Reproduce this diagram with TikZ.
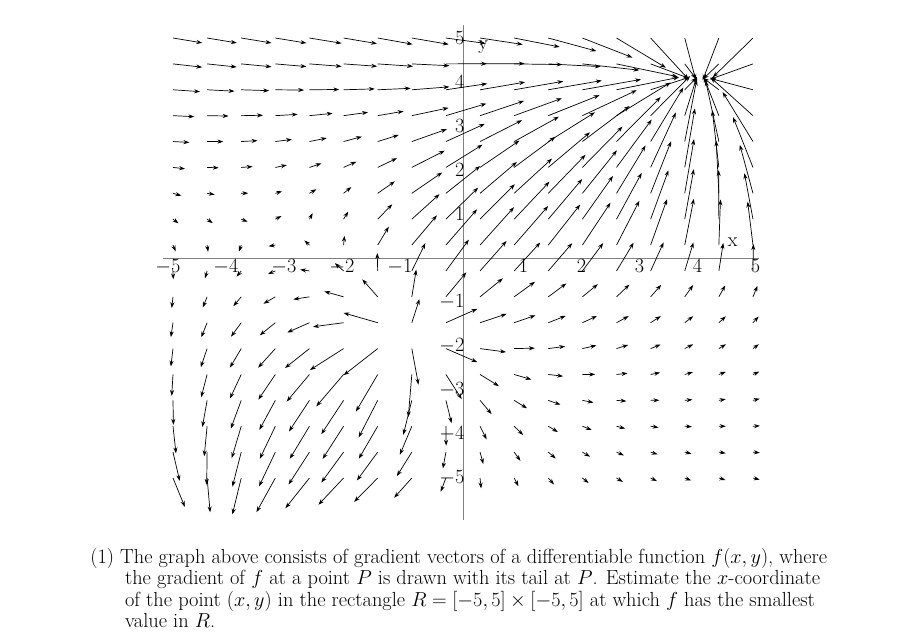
\documentclass[tikz,border=0pt]{standalone}
\usetikzlibrary{arrows.meta}
\begin{document}
\begin{tikzpicture}[x=1.74cm,y=1.32cm,
  vec/.style={-{Stealth[length=5pt,width=3.5pt]},line width=0.6pt},
  tick/.style={font=\fontsize{17}{20}\selectfont},
  captxt/.style={font=\fontsize{17.4}{18}\selectfont,anchor=base west,inner sep=0pt}]
\useasboundingbox (-7.983,5.864) rectangle (7.828,-8.682);
\draw[gray,line width=0.5pt] (-5.17,0) -- (5.1,0);
\draw[gray,line width=0.5pt] (0,5.3) -- (0,-5.95);
\foreach \i in {-5,...,5}{\ifnum\i=0\else
  \node[tick,below left,inner sep=1pt] (xt\i) at (\i+0.15,0) {$\i$};
  \node[tick,left,inner sep=1pt] (yt\i) at (0.05,\i) {$\i$};\fi}
\node[tick] (xl) at (4.65,0.35) {x};
\node[tick] (yl) at (0.35,4.8) {y};
\foreach \i in {0,...,17}{
 \foreach \j in {0,...,17}{
  \pgfmathsetmacro{\x}{-5+\i*10/17}\pgfmathsetmacro{\y}{-5+\j*10/17}
  \pgfmathsetmacro{\ax}{4-\x}\pgfmathsetmacro{\ay}{4-\y}
  \pgfmathsetmacro{\ra}{sqrt(\ax*\ax+\ay*\ay)+0.01}
  \pgfmathsetmacro{\fa}{max(exp(-max(4-\y,0)/3),exp(-max(-\y,0)*1.5)*exp(-max(-\x-1,0)/1.2))}
  \pgfmathsetmacro{\ka}{min(0.5+0.9*exp(-\ra/3),0.8*\ra)*\fa/\ra}
  \pgfmathsetmacro{\bx}{\x+1}\pgfmathsetmacro{\by}{\y+1.8}
  \pgfmathsetmacro{\kb}{0.7/(\bx*\bx+\by*\by+0.3)}
  \pgfmathsetmacro{\cx}{-4-\x}\pgfmathsetmacro{\cy}{-6.5-\y}
  \pgfmathsetmacro{\rc}{sqrt(\cx*\cx+\cy*\cy)}
  \pgfmathsetmacro{\kc}{0.85/(\rc+0.3)*exp(-\rc/5.5)*exp(-max(\x+1,0)/0.8)}
  \pgfmathsetmacro{\vx}{\ka*\ax+\kb*\bx+\kc*\cx}
  \pgfmathsetmacro{\vy}{\ka*\ay+\kb*\by+\kc*\cy}
  \pgfmathsetmacro{\vl}{sqrt(\vx*\vx+\vy*\vy)+0.001}
  \pgfmathsetmacro{\s}{max(min(\vl,\y<-1.5 ? 0.75 : 1.1),0.12)/\vl}
  \coordinate (p) at (\x,\y);
  \coordinate (q) at (\x+\s*\vx,\y+\s*\vy*1.3);
  \draw[vec] (p) -- (q);
 }}
\node[captxt] (c1) at (-6.43,-6.95) {(1) The graph above consists of gradient vectors of a differentiable function $f(x,y)$, where};
\node[captxt] (c2) at (-5.83,-7.43) {the gradient of $f$ at a point $P$ is drawn with its tail at $P$. Estimate the $x$-coordinate};
\node[captxt] (c3) at (-5.83,-7.91) {of the point $(x,y)$ in the rectangle $R=[-5,5]\times[-5,5]$ at which $f$ has the smallest};
\node[captxt] (c4) at (-5.83,-8.39) {value in $R$.};
\end{tikzpicture}
\end{document}
